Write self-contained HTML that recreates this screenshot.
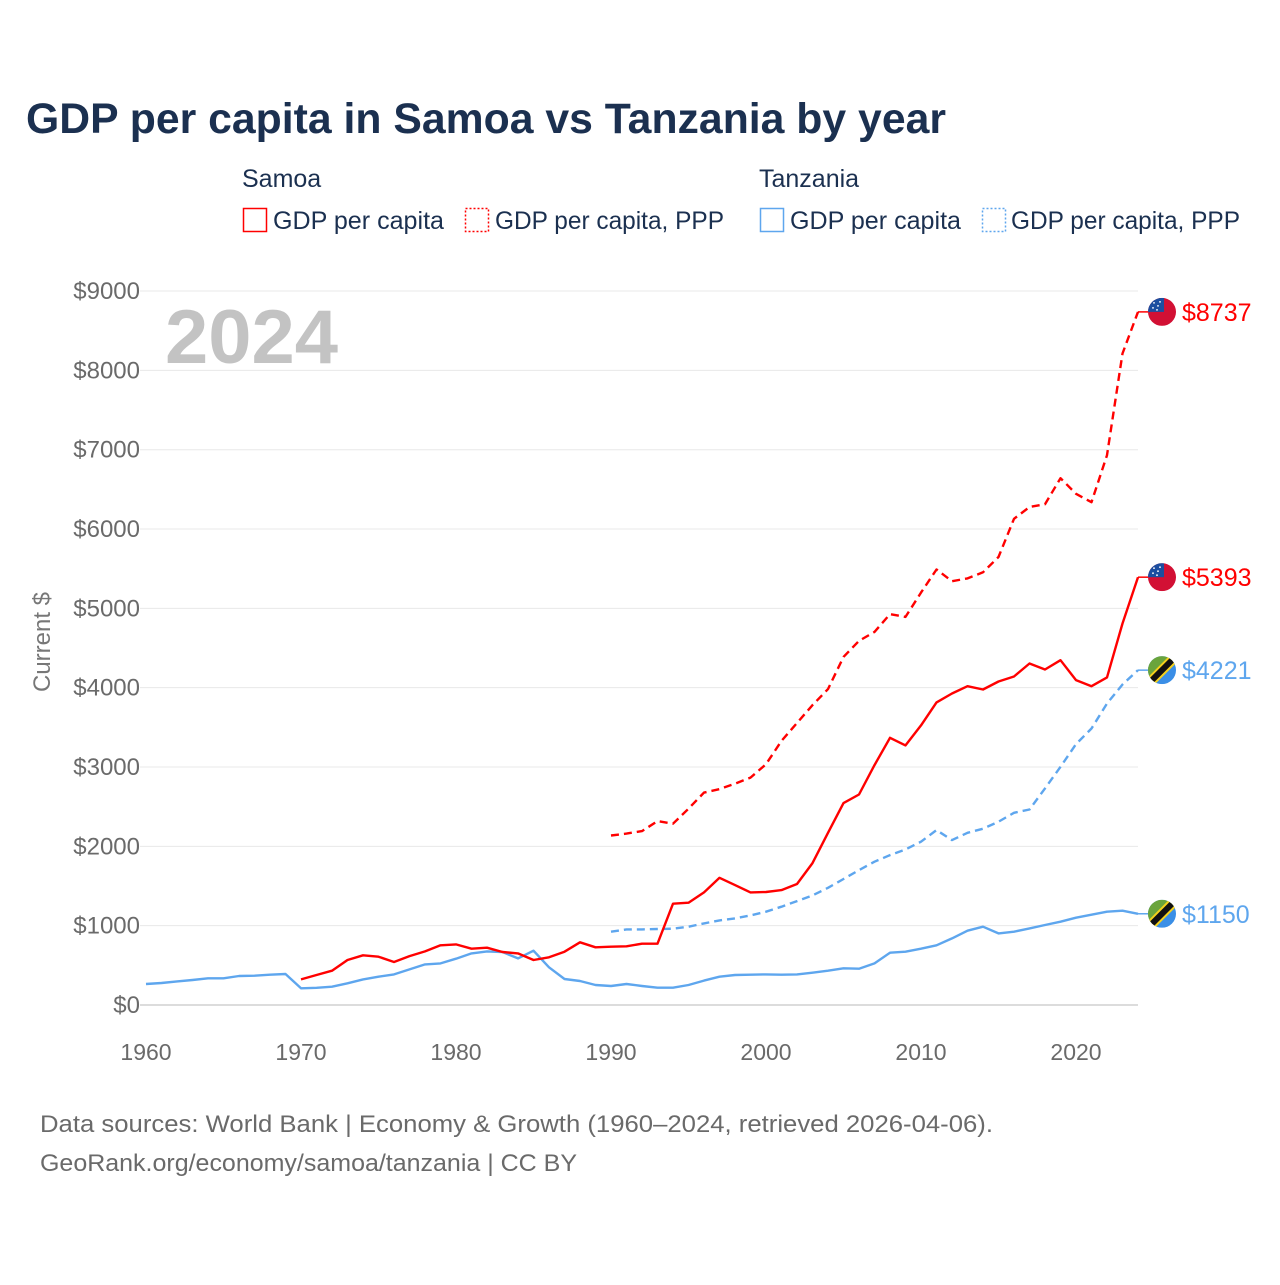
<!DOCTYPE html>
<html><head><meta charset="utf-8"><style>
body{margin:0;background:#fff;}
svg text{font-family:"Liberation Sans",sans-serif;}
</style></head><body>
<svg id="chart" width="1280" height="1280" viewBox="0 0 1280 1280" xmlns="http://www.w3.org/2000/svg">
<text x="26" y="133" font-size="43" font-weight="bold" fill="#1b3050" textLength="920" lengthAdjust="spacingAndGlyphs">GDP per capita in Samoa vs Tanzania by year</text>
<g font-size="25" fill="#1b3050">
<text x="242" y="187">Samoa</text>
<text x="759" y="187">Tanzania</text>
<g><rect x="243.5" y="208.5" width="23" height="23" fill="none" stroke="#f00" stroke-width="1.5"/><text x="273" y="229" textLength="171" lengthAdjust="spacingAndGlyphs">GDP per capita</text></g>
<g><rect x="465.5" y="208.5" width="23" height="23" fill="none" stroke="#f00" stroke-width="1.5" stroke-dasharray="2,2"/><text x="495" y="229" textLength="229" lengthAdjust="spacingAndGlyphs">GDP per capita, PPP</text></g>
<g><rect x="760.5" y="208.5" width="23" height="23" fill="none" stroke="#5ea6ee" stroke-width="1.5"/><text x="790" y="229" textLength="171" lengthAdjust="spacingAndGlyphs">GDP per capita</text></g>
<g><rect x="982.5" y="208.5" width="23" height="23" fill="none" stroke="#5ea6ee" stroke-width="1.5" stroke-dasharray="2,2"/><text x="1011" y="229" textLength="229" lengthAdjust="spacingAndGlyphs">GDP per capita, PPP</text></g>
</g>
<g id="grid"></g>
<text x="165" y="363" font-size="76" font-weight="bold" fill="#c3c3c3" textLength="173" lengthAdjust="spacingAndGlyphs">2024</text>
<text transform="translate(50,642) rotate(-90)" text-anchor="middle" font-size="24" fill="#777">Current $</text>
<g id="series"></g>
<g id="ends"></g>
<g font-size="24" fill="#6a6a6a">
<text x="40" y="1132" textLength="953" lengthAdjust="spacingAndGlyphs">Data sources: World Bank | Economy &amp; Growth (1960–2024, retrieved 2026-04-06).</text>
<text x="40" y="1171" textLength="537" lengthAdjust="spacingAndGlyphs">GeoRank.org/economy/samoa/tanzania | CC BY</text>
</g>
</svg>
<script>
const yTicks=[0,1000,2000,3000,4000,5000,6000,7000,8000,9000];
const xTicks=[1960,1970,1980,1990,2000,2010,2020];
const tzGdpStart=1960;
const tzGdp=[265,277,298,315,336,336,365,369,382,391,210,217,231,273,323,357,386,449,512,525,584,651,676,668,588,685,475,328,302,252,239,265,239,218,218,252,307,357,378,382,386,382,386,407,433,462,458,525,659,672,710,752,840,937,987,903,924,966,1008,1050,1100,1138,1176,1189,1150];
const wsGdpStart=1970;
const wsGdp=[323,378,432,567,626,609,542,617,676,752,764,710,722,668,651,567,601,672,790,727,735,740,773,773,1277,1289,1420,1604,1512,1420,1424,1449,1525,1789,2171,2545,2654,3024,3368,3272,3524,3814,3927,4019,3977,4078,4141,4305,4229,4347,4095,4019,4129,4809,5393];
const pppStart=1990;
const wsPpp=[2137,2160,2192,2318,2286,2475,2678,2722,2790,2867,3036,3329,3555,3780,3982,4388,4590,4703,4927,4892,5198,5490,5342,5377,5455,5647,6129,6278,6313,6640,6444,6338,6930,8213,8737];
const tzPpp=[924,953,953,958,962,987,1029,1067,1092,1130,1176,1239,1310,1382,1478,1588,1701,1806,1890,1961,2058,2205,2079,2171,2222,2310,2423,2465,2730,3003,3289,3486,3801,4040,4221];
const endLabels=["$8737","$5393","$4221","$1150"];

const NS="http://www.w3.org/2000/svg";
const X=y=>146+(y-1960)*15.5;
const Y=v=>1005-v*0.07933;
function mk(tag,attrs,parent){const e=document.createElementNS(NS,tag);for(const k in attrs)e.setAttribute(k,attrs[k]);parent.appendChild(e);return e;}
const grid=document.getElementById('grid');
yTicks.forEach(t=>{
  const l=mk('line',{x1:140,x2:1138,y1:Y(t),y2:Y(t),stroke:t===0?'#dcdcdc':'#e8e8e8','stroke-width':t===0?2:1},grid);
  
  
  const tx=mk('text',{x:140,y:Y(t)+8,'text-anchor':'end','font-size':24,fill:'#6a6a6a'},grid);
  tx.textContent='$'+t;
  
  
});
xTicks.forEach(t=>{
  const tx=mk('text',{x:X(t),y:1060,'text-anchor':'middle','font-size':23,fill:'#6a6a6a'},grid);
  tx.textContent=t;
  
  
});
const series=document.getElementById('series');
function line(vals,start,color,dash,name){
  const d=vals.map((v,i)=>(i?'L':'M')+X(start+i).toFixed(1)+','+Y(v).toFixed(1)).join('');
  const p=mk('path',{d:d,fill:'none',stroke:color,'stroke-width':2.4,'stroke-linejoin':'round'},series);
  if(dash)p.setAttribute('stroke-dasharray','8,5');
  
  
}
line(tzGdp,tzGdpStart,'#5ea6ee',false,'tanzania-gdp-line');
line(tzPpp,pppStart,'#5ea6ee',true,'tanzania-ppp-line');
line(wsGdp,wsGdpStart,'#f00',false,'samoa-gdp-line');
line(wsPpp,pppStart,'#f00',true,'samoa-ppp-line');

const ends=document.getElementById('ends');
const endVals=[wsPpp[wsPpp.length-1],wsGdp[wsGdp.length-1],tzPpp[tzPpp.length-1],tzGdp[tzGdp.length-1]];
const endCountry=['samoa','samoa','tanzania','tanzania'];
endVals.forEach((v,i)=>{
  const cy=Y(v),cx=1162;
  const col=endCountry[i]==='samoa'?'#f00':'#5ea6ee';
  mk('line',{x1:1138,x2:1148,y1:cy,y2:cy,stroke:col,'stroke-width':1.5},ends);
  const g=mk('g',{},ends);
  
  
  const cid='c'+i;
  const cp=mk('clipPath',{id:cid},g);mk('circle',{cx:cx,cy:cy,r:14},cp);
  const f=mk('g',{'clip-path':'url(#'+cid+')'},g);
  if(endCountry[i]==='samoa'){
    mk('rect',{x:cx-14,y:cy-14,width:28,height:28,fill:'#d21034'},f);
    mk('rect',{x:cx-14,y:cy-14,width:16,height:14,fill:'#1c4ea0'},f);
    [[-8,-9],[-4,-6],[-9,-4],[-5,-2],[-2,-10]].forEach(s=>mk('circle',{cx:cx+s[0],cy:cy+s[1],r:0.9,fill:'#fff'},f));
  } else {
    mk('rect',{x:cx-14,y:cy-14,width:28,height:28,fill:'#3a8ee6'},f);
    mk('polygon',{points:(cx-14)+','+(cy-14)+' '+(cx+14)+','+(cy-14)+' '+(cx-14)+','+(cy+14),fill:'#6aa43c'},f);
    mk('line',{x1:cx-16,y1:cy+16,x2:cx+16,y2:cy-16,stroke:'#f4d11c','stroke-width':10},f);
    mk('line',{x1:cx-16,y1:cy+16,x2:cx+16,y2:cy-16,stroke:'#111','stroke-width':6},f);
  }
  const t=mk('text',{x:1182,y:cy+9,'font-size':25,fill:col},ends);
  t.textContent=endLabels[i];
  
  
});
</script>
</body></html>
